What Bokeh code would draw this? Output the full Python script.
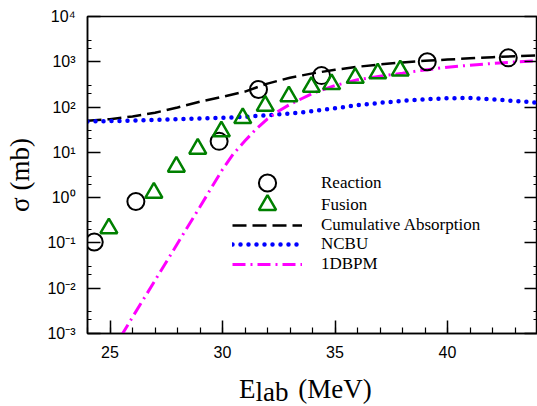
from bokeh.plotting import figure
from bokeh.layouts import column
from bokeh.models import (FixedTicker, LogAxis, Legend, LegendItem, CustomJSTickFormatter, Div)
from bokeh.embed import file_html
from bokeh.resources import INLINE

# ---------------- data ----------------
reaction_x = [24.3, 26.15, 29.85, 31.6, 34.4, 39.1, 42.7]
reaction_y = [0.105, 0.82, 17.5, 245, 495, 1000, 1220]

fusion_x = [24.95, 26.95, 27.95, 28.9, 29.95, 30.9, 31.9, 32.95, 33.95, 34.85, 35.9, 36.9, 37.9]
fusion_y = [0.21, 1.28, 4.8, 12, 29, 57, 107, 172, 280, 320, 440, 555, 640]

curve_x = [24, 25, 26, 27, 28, 29, 30, 31, 32, 33, 34, 35, 36, 37, 38, 39, 40, 41, 42, 43, 44]
absorption_y = [50, 54, 62, 75, 98, 132, 168, 220, 330, 445, 555, 665, 775, 875, 965, 1050, 1120, 1190, 1260, 1330, 1390]
ncbu_y = [48, 49, 50, 52, 54, 56, 58, 61, 66, 72, 81, 94, 110, 124, 137, 148, 157, 158, 148, 136, 125]

bpm_x = [25.5, 26, 27, 28, 29, 30, 30.5, 31, 31.5, 32, 32.5, 33, 34, 35, 36, 37, 38, 39, 40, 41, 42, 43, 44]
bpm_y = [8.9e-4, 2.3e-3, 0.0148, 0.097, 0.63, 4.2, 9.5, 18, 33, 55, 82, 115, 200, 300, 400, 480, 560, 660, 760, 840, 920, 990, 1050]

x_tick_values = [25, 30, 35, 40]
x_minor_values = list(range(24, 45))
y_tick_values = [1e-3, 1e-2, 1e-1, 1, 10, 100, 1000, 10000]
y_tick_labels = ["10\u207b\u00b3", "10\u207b\u00b2", "10\u207b\u00b9", "10\u2070",
                 "10\u00b9", "10\u00b2", "10\u00b3", "10\u2074"]
y_minor_values = [m * d for d in y_tick_values[:-1] for m in (2, 3)]

legend_labels = ["Reaction", "Fusion", "Cumulative Absorption", "NCBU", "1DBPM"]
y_title = "\u03c3 (mb)"
x_title_main, x_title_sub, x_title_unit = "E", "lab", "(MeV)"

SERIF = "Liberation Serif"
SANS = "Liberation Sans"

# ---------------- main figure ----------------
p = figure(width=537, height=372, x_range=(24, 44), y_range=(1e-3, 1e4),
           y_axis_type="log", output_backend="svg", toolbar_location=None,
           min_border_left=87, min_border_right=0, min_border_top=16, min_border_bottom=39)
p.grid.visible = False
p.outline_line_color = "black"
p.outline_line_width = 1.5
p.background_fill_color = "white"
p.border_fill_color = "white"

r_abs = p.line(curve_x, absorption_y, line_color="black", line_width=2.5, line_dash="14 6")
r_ncbu = p.line(curve_x, ncbu_y, line_color="#0000ff", line_width=4.5, line_dash="0 8", line_cap="round")
r_bpm = p.line(bpm_x, bpm_y, line_color="#ff00ff", line_width=3, line_dash="13 5 2 5")
r_reac = p.scatter(reaction_x, reaction_y, marker="circle", size=17, fill_color=None,
                   line_color="black", line_width=2)
r_fus = p.scatter(fusion_x, fusion_y, marker="triangle", size=17, fill_color=None,
                  line_color="#008000", line_width=2.5)

# axes
xa = p.xaxis[0]
xa.ticker = FixedTicker(ticks=x_tick_values, minor_ticks=x_minor_values)
ya = p.yaxis[0]
fmt = CustomJSTickFormatter(args=dict(vals=y_tick_values, labs=y_tick_labels), code="""
let best = 0, bd = Infinity;
for (let i = 0; i < vals.length; i++) {
  const d = Math.abs(Math.log10(vals[i]) - Math.log10(tick));
  if (d < bd) { bd = d; best = i; }
}
return labs[best];
""")
ya.ticker = FixedTicker(ticks=y_tick_values, minor_ticks=y_minor_values)
ya.formatter = fmt
ya.axis_label = y_title
ya.axis_label_text_font = SERIF
ya.axis_label_text_font_size = "27px"
ya.axis_label_text_font_style = "normal"
ya.axis_label_text_color = "black"
ya.axis_label_standoff = 9

blank = CustomJSTickFormatter(code="return '';")
ra = LogAxis(ticker=FixedTicker(ticks=y_tick_values, minor_ticks=y_minor_values),
             formatter=blank, major_label_standoff=0)
p.add_layout(ra, "right")

for ax, minor_len in ((xa, 6), (ya, 4), (ra, 4)):
    ax.major_tick_in = 13
    ax.major_tick_out = 0
    ax.minor_tick_in = minor_len
    ax.minor_tick_out = 0
    ax.axis_line_color = "black"
    ax.axis_line_width = 1.5
    ax.major_tick_line_color = "black"
    ax.major_tick_line_width = 1.5
    ax.minor_tick_line_color = "black"
    ax.minor_tick_line_width = 1.2

for ax in (xa, ya):
    ax.major_label_text_font = SANS
    ax.major_label_text_font_size = "16px"
    ax.major_label_text_color = "black"
    ax.major_label_standoff = 12

# legend: one small legend per entry so markers can be drawn large while rows stay tight
entry_renderers = [r_reac, r_fus, r_abs, r_ncbu, r_bpm]
entry_glyph_h = [43, 43, 20, 20, 20]
entry_offset_y = [129, 107, 98, 79, 59]
for lab, rend, gh, oy in zip(legend_labels, entry_renderers, entry_glyph_h, entry_offset_y):
    lg = Legend(items=[LegendItem(label=lab, renderers=[rend])],
                location=(145, oy), glyph_width=70, glyph_height=gh, label_height=gh,
                label_standoff=19, padding=0, spacing=0, margin=0,
                border_line_color=None, background_fill_alpha=0,
                label_text_font=SERIF, label_text_font_size="17px",
                label_text_color="black")
    p.add_layout(lg)

# ---------------- x-axis title ----------------
title_html = (
    f'<div style="position:absolute; left:234px; top:-1px; white-space:nowrap; '
    f'font-family:\'{SERIF}\'; font-size:27px; line-height:27px; color:black;">'
    f'{x_title_main}<span style="position:relative; top:3px;">{x_title_sub}</span>'
    f'<span style="margin-left:3px;"> {x_title_unit}</span></div>'
)
t = Div(text=title_html, width=537, height=34, styles={"position": "relative", "overflow": "visible"})

layout = column(p, t, spacing=0)
open("out.html", "w").write(file_html(layout, INLINE))
